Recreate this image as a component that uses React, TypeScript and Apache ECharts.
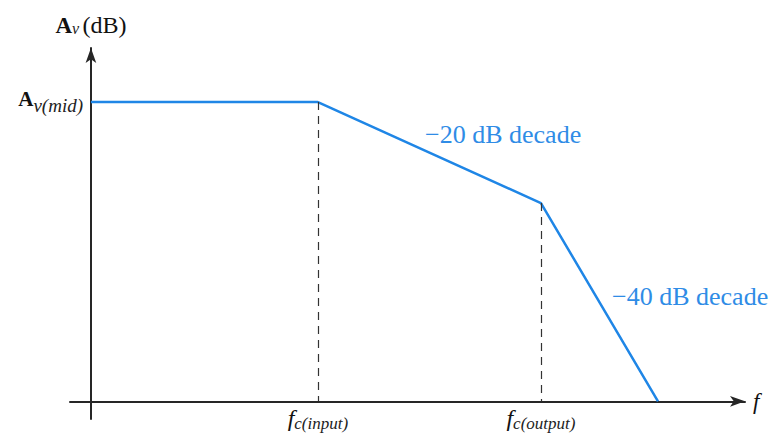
import React, { useEffect, useRef } from "react";
import * as echarts from "echarts";

// Break points of the asymptotic Bode response (abstract units)
const freqPoints = [0, 34.7, 68.8, 86.7];
const gainPoints = [84.7, 84.7, 56.1, 0];
const cutoffIndices = [1, 2];
const cutoffLabels = ["{f|f}{s|c(input)}", "{f|f}{s|c(output)}"];
const midLabel = "{a|A}{s|v(mid)}";
const slopeTexts = ["\u221220 dB decade", "\u221240 dB decade"];

const BLUE = "#1f86e6";
const TEXT_BLUE = "#2f8ce6";
const AXIS = "#262626";
const SERIF = "Liberation Serif";

export default function App() {
  const ref = useRef<HTMLDivElement>(null);
  useEffect(() => {
    if (!ref.current) return;
    const chart = echarts.init(ref.current, null, { renderer: "svg" });
    const data = freqPoints.map((x, i) => [x, gainPoints[i]]);
    const cutoffX = cutoffIndices.map((i) => freqPoints[i]);
    chart.setOption({
      animation: false,
      backgroundColor: "#ffffff",
      grid: { left: 70, right: 29, top: 48, bottom: 21, outerBoundsMode: "none", containLabel: false },
      xAxis: {
        type: "value",
        min: -3.2,
        max: 100,
        name: "f",
        nameLocation: "end",
        nameGap: 8,
        nameTextStyle: {
          fontFamily: SERIF,
          fontStyle: "italic",
          fontSize: 23,
          color: "#111",
          verticalAlign: "middle",
          padding: [0, 0, 4, 0],
        },
        axisLine: {
          onZero: true,
          symbol: ["none", "arrow"],
          symbolSize: [8, 15],
          lineStyle: { color: AXIS, width: 2 },
        },
        axisTick: { show: false },
        splitLine: { show: false },
        axisLabel: {
          customValues: cutoffX,
          margin: -13,
          verticalAlign: "top",
          formatter: (v: number) => {
            const idx = cutoffX.findIndex((c) => Math.abs(c - v) < 1e-6);
            return idx >= 0 ? cutoffLabels[idx] : "";
          },
          rich: {
            f: { fontFamily: SERIF, fontStyle: "italic", fontSize: 24, color: "#111", lineHeight: 22, verticalAlign: "top" },
            s: { fontFamily: SERIF, fontStyle: "italic", fontSize: 17, color: "#222", lineHeight: 35 },
          },
        },
      },
      yAxis: {
        type: "value",
        min: -5,
        max: 100,
        name: "{a|A}{s|v} {p|(dB)}",
        nameLocation: "end",
        nameGap: 12,
        nameTextStyle: {
          rich: {
            a: { fontFamily: SERIF, fontWeight: "bold", fontSize: 23, color: "#111", lineHeight: 22 },
            s: { fontFamily: SERIF, fontStyle: "italic", fontSize: 16, color: "#222", verticalAlign: "bottom", lineHeight: 10 },
            p: { fontFamily: SERIF, fontSize: 24, color: "#111", lineHeight: 22 },
          },
        },
        axisLine: {
          onZero: true,
          symbol: ["none", "arrow"],
          symbolSize: [8, 15],
          lineStyle: { color: AXIS, width: 2 },
        },
        axisTick: { show: false },
        splitLine: { show: false },
        axisLabel: {
          customValues: [gainPoints[0]],
          margin: -13,
          padding: [6, 0, 0, 0],
          formatter: () => midLabel,
          rich: {
            a: { fontFamily: SERIF, fontWeight: "bold", fontSize: 21, color: "#111", lineHeight: 22, verticalAlign: "top" },
            s: { fontFamily: SERIF, fontStyle: "italic", fontSize: 19, color: "#222", lineHeight: 34 },
          },
        },
      },
      series: [
        {
          type: "line",
          data,
          symbol: "none",
          lineStyle: { color: BLUE, width: 2.5 },
          markLine: {
            silent: true,
            symbol: "none",
            label: { show: false },
            lineStyle: { color: "#333", width: 1.2, type: [8, 6] },
            data: cutoffIndices.map((i) => [
              { coord: [freqPoints[i], gainPoints[i]] },
              { coord: [freqPoints[i], 0] },
            ]),
          },
        },
      ],
      graphic: [
        {
          type: "text",
          left: 425,
          top: 121,
          style: { text: slopeTexts[0], fill: TEXT_BLUE, fontFamily: SERIF, fontSize: 26 },
        },
        {
          type: "text",
          left: 612,
          top: 283,
          style: { text: slopeTexts[1], fill: TEXT_BLUE, fontFamily: SERIF, fontSize: 26 },
        },
      ],
    });
    return () => chart.dispose();
  }, []);
  return (
    <div
      ref={ref}
      style={{ position: "fixed", left: 0, top: 0, width: 774, height: 440 }}
    />
  );
}
